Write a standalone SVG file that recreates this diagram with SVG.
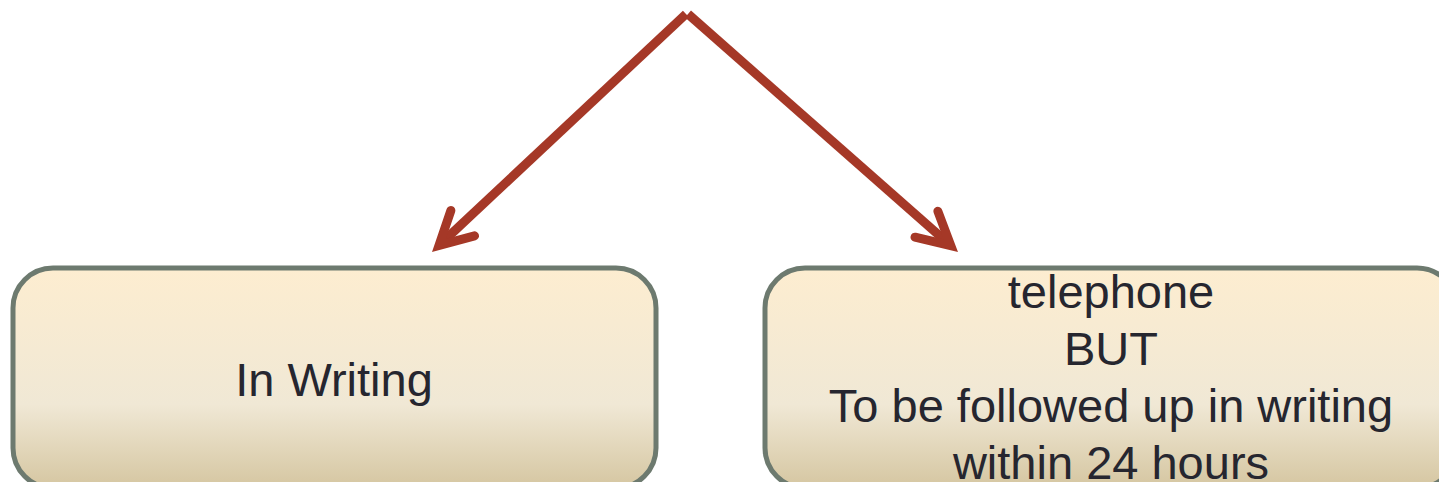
<svg xmlns="http://www.w3.org/2000/svg" width="1439" height="482" viewBox="0 0 1439 482">
  <style>
    .box { fill: url(#boxGrad); stroke: #6d7a6f; stroke-width: 5; }
    .label { font-family: "Liberation Sans", Arial, sans-serif; font-size: 47px; fill: #26262f; text-anchor: middle; }
    .conn { fill: none; stroke: #a53827; stroke-width: 9; stroke-linecap: butt; }
  </style>
  <defs>
    <linearGradient id="boxGrad" x1="0" y1="0" x2="0" y2="1">
      <stop offset="0" stop-color="#fdedd0"/>
      <stop offset="0.62" stop-color="#f0e8d5"/>
      <stop offset="1" stop-color="#d5c6a1"/>
    </linearGradient>
    <marker id="arrow" markerUnits="userSpaceOnUse" markerWidth="60" markerHeight="60" refX="0" refY="0" viewBox="-40 -30 50 60" orient="auto" overflow="visible">
      <polyline points="-32.5,-17.3 0,0 -32.5,17.3" fill="none" stroke="#a53827" stroke-width="9" stroke-linecap="round" stroke-linejoin="miter" stroke-miterlimit="10"/>
    </marker>
  </defs>
  <rect width="1439" height="482" fill="#ffffff"/>
  <g id="connectors">
    <line class="conn" x1="686" y1="14" x2="439" y2="245.4" marker-end="url(#arrow)"/>
    <line class="conn" x1="688" y1="14" x2="950.8" y2="245.7" marker-end="url(#arrow)"/>
  </g>
  <g id="node-writing">
    <rect class="box" x="13" y="268" width="643" height="220" rx="40" ry="40"/>
    <text class="label" x="334" y="396">In Writing</text>
  </g>
  <g id="node-telephone">
    <rect class="box" x="765" y="268" width="692" height="220" rx="40" ry="40"/>
    <text class="label" x="1111" y="308">telephone</text>
    <text class="label" x="1111" y="365">BUT</text>
    <text class="label" x="1111" y="422">To be followed up in writing</text>
    <text class="label" x="1111" y="479">within 24 hours</text>
  </g>
</svg>
